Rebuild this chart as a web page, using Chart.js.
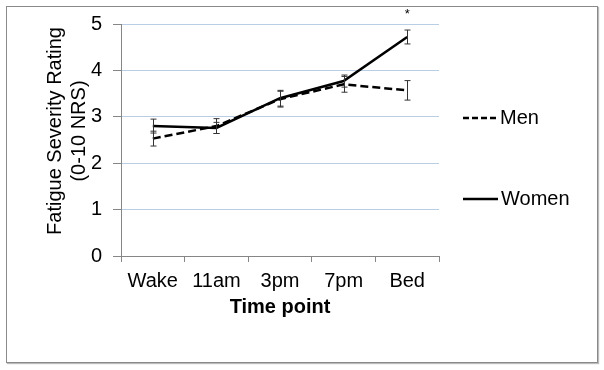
<!DOCTYPE html>
<html>
<head>
<meta charset="utf-8">
<script src="https://cdn.jsdelivr.net/npm/chart.js@4"></script>
<style>
    body { margin: 0; background: #fff; }
    #wrap { position: relative; width: 604px; height: 370px; }
    #frame { position: absolute; left: 6px; top: 6px; width: 590px; height: 355px;
             border: 1px solid #8a8a8a; box-shadow: 1px 1px 1px #bbb; pointer-events: none; }
</style>
</head>
<body>
<div id="wrap">
    <canvas id="chart" width="604" height="370"></canvas>
    <div id="frame"></div>
</div>
<script>
// ---- Data ----
const timePoints = ["Wake", "11am", "3pm", "7pm", "Bed"];
const menValues = [2.53, 2.80, 3.38, 3.70, 3.57];
const womenValues = [2.80, 2.76, 3.40, 3.77, 4.72];
const menErr = [0.16, 0.16, 0.17, 0.17, 0.21];
const womenErr = [0.15, 0.12, 0.17, 0.13, 0.15];
const yTicks = [0, 1, 2, 3, 4, 5];

const FONT = "'Liberation Sans', Arial, sans-serif";
const AXIS_GRAY = "#868686";
const GRID_BLUE = "#b9cde5";

// ---- Error bars, legend, titles ----
const extras = {
    id: "extras",
    afterDatasetsDraw(chart) {
        const ctx = chart.ctx;
        const y = chart.scales.y;
        const errs = [menErr, womenErr];
        ctx.save();
        ctx.strokeStyle = "#333";
        ctx.lineWidth = 1;
        chart.data.datasets.forEach((ds, di) => {
            const meta = chart.getDatasetMeta(di);
            meta.data.forEach((pt, i) => {
                const x = Math.round(pt.x) + 0.5;
                const top = y.getPixelForValue(ds.data[i] + errs[di][i]);
                const bot = y.getPixelForValue(ds.data[i] - errs[di][i]);
                ctx.beginPath();
                ctx.moveTo(x, top); ctx.lineTo(x, bot);
                ctx.moveTo(x - 3, top); ctx.lineTo(x + 3, top);
                ctx.moveTo(x - 3, bot); ctx.lineTo(x + 3, bot);
                ctx.stroke();
            });
        });

        // asterisk over Bed
        const bedX = chart.getDatasetMeta(1).data[4].x;
        const bedTop = y.getPixelForValue(womenValues[4] + womenErr[4]);
        ctx.fillStyle = "#000";
        ctx.font = "13px " + FONT;
        ctx.textAlign = "center";
        ctx.textBaseline = "middle";
        ctx.fillText("*", bedX, bedTop - 16);

        // legend
        ctx.strokeStyle = "#000";
        ctx.lineWidth = 2.5;
        ctx.setLineDash([6, 3]);
        ctx.beginPath(); ctx.moveTo(463, 118); ctx.lineTo(498, 118); ctx.stroke();
        ctx.setLineDash([]);
        ctx.beginPath(); ctx.moveTo(463, 199); ctx.lineTo(498, 199); ctx.stroke();
        ctx.font = "20px " + FONT;
        ctx.textAlign = "left";
        ctx.fillText("Men", 500, 118);
        ctx.fillText("Women", 501, 199);

        // axis titles
        ctx.font = "bold 20px " + FONT;
        ctx.textAlign = "center";
        ctx.fillText("Time point", (chart.chartArea.left + chart.chartArea.right) / 2, 307);
        ctx.font = "20px " + FONT;
        ctx.translate(55, 131);
        ctx.rotate(-Math.PI / 2);
        ctx.fillText("Fatigue Severity Rating", 0, 0);
        ctx.fillText("(0-10 NRS)", 0, 24);
        ctx.restore();
    }
};

const chart = new Chart(document.getElementById("chart"), {
    type: "line",
    data: {
        labels: timePoints,
        datasets: [
            { label: "Men", data: menValues, borderColor: "#000", borderWidth: 2.5,
              borderDash: [8, 4], pointRadius: 0, fill: false, tension: 0 },
            { label: "Women", data: womenValues, borderColor: "#000", borderWidth: 2.5,
              pointRadius: 0, fill: false, tension: 0 }
        ]
    },
    options: {
        responsive: false,
        animation: false,
        layout: { padding: { top: 24, right: 165, left: 0, bottom: 0 } },
        plugins: { legend: { display: false }, tooltip: { enabled: false } },
        scales: {
            x: {
                offset: true,
                grid: { offset: true, drawOnChartArea: false, tickLength: 6, tickColor: AXIS_GRAY },
                border: { color: AXIS_GRAY },
                ticks: { color: "#000", font: { family: FONT, size: 20 }, padding: 7, maxRotation: 0 },
                afterFit: s => { s.height = 114; }
            },
            y: {
                min: 0, max: 5,
                afterBuildTicks: s => { s.ticks = yTicks.map(v => ({ value: v })); },
                grid: {
                    color: c => c.tick.value === 0 ? "rgba(0,0,0,0)" : GRID_BLUE,
                    tickColor: AXIS_GRAY, tickLength: 8
                },
                border: { color: AXIS_GRAY },
                ticks: { color: "#000", font: { family: FONT, size: 20 }, padding: 11 },
                afterFit: s => { s.width = 121; }
            }
        }
    },
    plugins: [extras]
});
</script>
</body>
</html>
